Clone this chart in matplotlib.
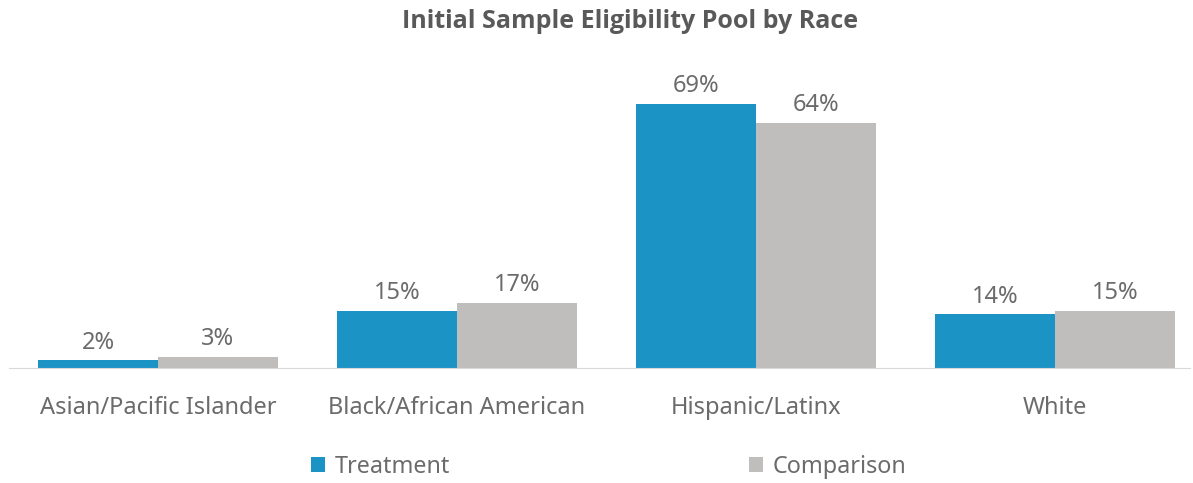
import numpy as np
import matplotlib.pyplot as plt

categories = ['Asian/Pacific Islander', 'Black/African American', 'Hispanic/Latinx', 'White']
treatment = [2, 15, 69, 14]
comparison = [3, 17, 64, 15]

blue = '#1b93c4'
grey = '#bfbebd'
txt = '#6b6b6b'

plt.rcParams['font.family'] = ['Noto Sans', 'DejaVu Sans']

fig = plt.figure(figsize=(11.93, 4.83), dpi=100)
W, H = 1193, 483
base_px, top_px = 368, 61.6
ax = fig.add_axes([9 / W, (H - base_px) / H, (1190 - 9) / W, (base_px - top_px) / H])

x = np.arange(len(categories))
w = 0.4
b1 = ax.bar(x - w / 2, treatment, w, color=blue, label='Treatment')
b2 = ax.bar(x + w / 2, comparison, w, color=grey, label='Comparison')

for bars in (b1, b2):
    ax.bar_label(bars, labels=[f'{v}%' for v in bars.datavalues],
                 padding=4, fontsize=17, color=txt)

ax.set_xlim((9 - 158) / 299, (1190 - 158) / 299)
ax.set_ylim(0, 80)
ax.set_xticks(x)
ax.set_xticklabels(categories, fontsize=17, color=txt)
ax.tick_params(axis='x', length=0, pad=20)
ax.set_yticks([])
for s in ['top', 'right', 'left']:
    ax.spines[s].set_visible(False)
ax.spines['bottom'].set_color('#d9d9d9')

fig.text(0.528, 1 - 22 / H, 'Initial Sample Eligibility Pool by Race',
         ha='center', va='center', fontsize=18, fontweight='bold',
         color='#595959', family='Open Sans')

fig.legend(handles=[b1, b2], loc='center', ncol=2, frameon=False,
           bbox_to_anchor=(608.5 / W, 1 - 467 / H), fontsize=16.8,
           labelcolor=txt, handlelength=0.6, handleheight=0.63,
           handletextpad=0.42, columnspacing=12.8)

fig.savefig('out.png', dpi=100)
